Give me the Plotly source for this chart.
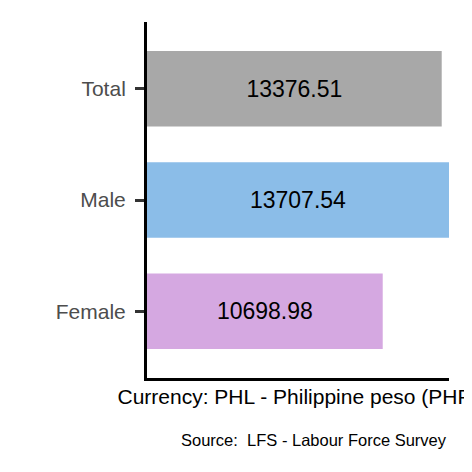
import plotly.graph_objects as go

# mean monthly earnings by sex
categories = ["Female", "Male", "Total"]
values = [10698.98, 13707.54, 13376.51]
bar_colors = ["#D5A8E1", "#8BBDE8", "#A8A8A8"]
x_title = "Currency: PHL - Philippine peso (PHP)"
source_note = "Source:  LFS - Labour Force Survey"

fig = go.Figure()

fig.add_trace(go.Bar(
    y=categories,
    x=values,
    orientation="h",
    marker=dict(color=bar_colors, line=dict(width=0)),
    width=0.68,
    text=[f"{v:.2f}" for v in values],
    textposition="inside",
    insidetextanchor="middle",
    textangle=0,
    textfont=dict(color="black", size=23, family="Liberation Sans, Arial, sans-serif"),
    hoverinfo="skip",
))

# page body has an 8px margin, so the figure is offset by that much
fig.update_layout(
    width=472,
    height=464,
    margin=dict(l=139, r=31, t=14, b=94),
    plot_bgcolor="white",
    paper_bgcolor="white",
    showlegend=False,
    font=dict(family="Liberation Sans, Arial, sans-serif"),
    uniformtext=dict(minsize=8, mode="show"),
)

fig.update_xaxes(
    range=[0, max(values)],
    showticklabels=False,
    ticks="",
    showgrid=False,
    zeroline=False,
    showline=True,
    linecolor="black",
    linewidth=3,
    title=dict(text=x_title, font=dict(size=21, color="black"), standoff=10),
)

fig.update_yaxes(
    range=[-0.6, 2.6],
    showgrid=False,
    zeroline=False,
    showline=True,
    linecolor="black",
    linewidth=3,
    ticks="outside",
    ticklen=9,
    tickwidth=3,
    tickcolor="#333333",
    ticklabelstandoff=5,
    tickfont=dict(size=21, color="#4D4D4D"),
)

fig.add_annotation(
    text=source_note,
    xref="paper", yref="paper",
    x=1.0, y=-0.142,
    xanchor="right", yanchor="top",
    showarrow=False,
    font=dict(size=16.5, color="black"),
)

fig.write_html("out.html")
